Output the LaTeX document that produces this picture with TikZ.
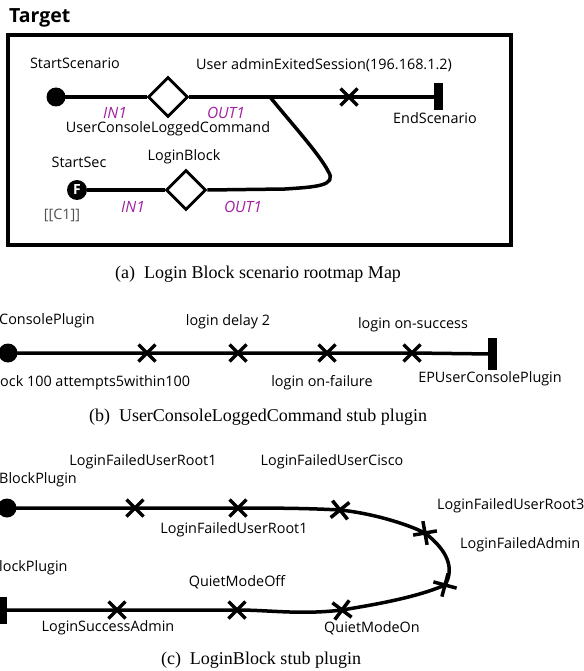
\documentclass[tikz,border=0pt]{standalone}
\usepackage{fontspec}
\newfontfamily\lab{Open Sans}
\newfontfamily\capfont{Liberation Serif}
\usetikzlibrary{shapes.geometric,shapes.misc}
\definecolor{inout}{RGB}{160,32,160}
\definecolor{cgray}{RGB}{80,80,80}
\begin{document}
\begin{tikzpicture}[x=1pt,y=-1pt,
  lbl/.style={font=\lab\fontsize{14.4}{16}\selectfont, inner sep=0},
  port/.style={inner sep=0, text=inout, font=\lab\itshape\fontsize{15.5}{17}\selectfont},
  capt/.style={font=\capfont\fontsize{18}{20}\selectfont, inner sep=0},
  ucmpath/.style={line width=3.5pt},
  startpt/.style={circle, fill=black, minimum size=19pt, inner sep=0},
  stubd/.style={diamond, draw, line width=2.8pt, fill=white, minimum width=40pt, minimum height=40pt, inner sep=0},
  endbar/.style={rectangle, fill=black, minimum width=9pt, minimum height=27pt, inner sep=0},
  resp/.style={cross out, draw, line width=3.5pt, minimum size=13.5pt, inner sep=0}
]
\useasboundingbox (0,0) rectangle (583,671);

% ---------- (a) ----------
\node[font=\lab\bfseries\fontsize{19.5}{21}\selectfont, inner sep=0, anchor=west] (ttl) at (9,18) {Target};
\draw[line width=3.2pt] (8,35) rectangle (511,245);

\node[startpt] (ss) at (56,97) {};
\node[stubd] (ucl) at (168,97) {};
\coordinate (jn) at (270,97);
\node[resp] (r1) at (349,97) {};
\node[endbar] (es) at (438,97) {};
\draw[ucmpath] (ss.center) -- (ucl.west);
\draw[ucmpath] (ucl.east) -- (jn) -- (es.center);

\node[startpt, minimum size=20pt] (sc) at (77,190) {\textcolor{white}{\lab\bfseries\fontsize{14}{14}\selectfont F}};
\node[stubd] (lb) at (186,190) {};
\coordinate (lp1) at (285,189);
\coordinate (lp2) at (328,171);
\draw[ucmpath] (sc.east) -- (lb.west);
\draw[ucmpath] (lb.east) -- (lp1) .. controls (315,187) and (338,186) .. (lp2) .. controls (320,155) and (292,124) .. (jn);

\node[lbl] (t1) at (75,63) {StartScenario};
\node[lbl] (t2) at (324,65) {User adminExitedSession(196.168.1.2)};
\node[port] (t3) at (115,113) {IN1};
\node[port] (t4) at (226,113) {OUT1};
\node[lbl] (t5) at (168,129) {UserConsoleLoggedCommand};
\node[lbl] (t6) at (435,118) {EndScenario};
\node[lbl] (t7) at (79,162) {StartSec};
\node[lbl, text=cgray] (t8) at (62,215) {[[C1]]};
\node[lbl] (t9) at (184,157) {LoginBlock};
\node[port] (t10) at (133,207) {IN1};
\node[port] (t11) at (243,207) {OUT1};
\node[capt] (ca) at (258,274) {(a)\enspace Login Block scenario rootmap Map};

% ---------- (b) ----------
\node[startpt] (bs) at (8,353) {};
\node[resp] (b1) at (147,353) {};
\node[resp] (b2) at (238,353) {};
\node[resp] (b3) at (327,353) {};
\node[resp] (b4) at (412,353) {};
\node[endbar, minimum height=32pt] (be) at (492,354) {};
\draw[ucmpath] (bs.center) -- (b1.center) -- (b2.center) -- (b3.center) -- (b4.center) -- (be.center);

\node[lbl, anchor=west] (u1) at (-1,321) {ConsolePlugin};
\node[lbl] (u2) at (228,322) {login delay 2};
\node[lbl] (u3) at (413,325) {login on-success};
\node[lbl, anchor=west] (u4) at (0,383) {ock 100 attempts5within100};
\node[lbl] (u5) at (322,383) {login on-failure};
\node[lbl] (u6) at (490,379) {EPUserConsolePlugin};
\node[capt] (cb) at (258,417) {(b)\enspace UserConsoleLoggedCommand stub plugin};

% ---------- (c) ----------
\node[startpt] (cs) at (7,508) {};
\node[resp] (c1) at (135,508) {};
\node[resp] (c2) at (238,508) {};
\node[resp, rotate=-6] (c3) at (340,510) {};
\node[resp, rotate=-35] (c4) at (425,533) {};
\node[resp, rotate=30] (c5) at (445,585) {};
\node[resp, rotate=8] (c6) at (342,610) {};
\node[resp] (c7) at (237,610) {};
\node[resp] (c8) at (117,610) {};
\node[endbar] (ce) at (2,610) {};
\draw[ucmpath] (cs.center) -- (c1.center) -- (c2.center)
  .. controls (300,508) and (320,509) .. (c3.center)
  .. controls (370,513) and (405,523) .. (c4.center)
  .. controls (447,550) and (455,568) .. (c5.center)
  .. controls (415,598) and (372,605) .. (c6.center)
  .. controls (300,615) and (270,610) .. (c7.center)
  -- (c8.center) -- (ce.center);

\node[lbl, anchor=west] (v1) at (-1,480) {BlockPlugin};
\node[lbl] (v2) at (143,462) {LoginFailedUserRoot1};
\node[lbl] (v3) at (332,462) {LoginFailedUserCisco};
\node[lbl] (v4) at (234,530) {LoginFailedUserRoot1};
\node[lbl, anchor=west] (v5) at (437,506) {LoginFailedUserRoot3};
\node[lbl, anchor=west] (v6) at (460,545) {LoginFailedAdmin};
\node[lbl, anchor=west] (v7) at (-1,568) {lockPlugin};
\node[lbl] (v8) at (237,582) {QuietModeOff};
\node[lbl] (v9) at (108,628) {LoginSuccessAdmin};
\node[lbl] (v10) at (372,628) {QuietModeOn};
\node[capt] (cc) at (261,660) {(c)\enspace LoginBlock stub plugin};
\end{tikzpicture}
\end{document}
